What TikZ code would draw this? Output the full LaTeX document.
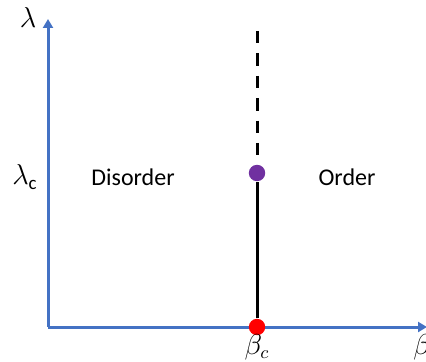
\documentclass[tikz,border=0pt]{standalone}
\usepackage{fontspec}
\setmainfont{Carlito}
\usetikzlibrary{arrows.meta}
\definecolor{axisblue}{HTML}{4472C4}
\definecolor{critpurple}{HTML}{7030A0}

\begin{document}
\begin{tikzpicture}[x=0.5pt,y=-0.5pt,>={Triangle[length=4.5pt,width=5pt]},
    axis/.style={->,axisblue,line width=1.5pt},
    phaseline/.style={black,line width=1.5pt},
    dot/.style={circle,inner sep=0pt,minimum size=8.2pt},
    every node/.style={font=\fontsize{12}{14}\selectfont},
    mathlabel/.style={font=\fontsize{13.5}{16}\selectfont}]
    \useasboundingbox (0,0) rectangle (426,362);
    \coordinate (o) at (48,327);
    \coordinate (ytip) at (48,19);
    \coordinate (xtip) at (427,327);
    \coordinate (top) at (257,31);
    \draw[axis] (o)--(ytip);
    \draw[axis] (o)--(xtip);
    \node[dot,fill=red] (bc) at (257,327) {};
    \node[dot,fill=critpurple] (lc) at (257,173) {};
    \draw[phaseline] (bc)--(lc);
    \draw[phaseline,dash pattern=on 6.2pt off 5pt] (top)--(lc);
    \node[mathlabel] (lam) at (28,18) {$\lambda$};
    \node[mathlabel] (lamc) at (25,177) {$\lambda_{\mathrm{c}}$};
    \node (dis) at (133,177) {Disorder};
    \node (ord) at (347,177) {Order};
    \node[mathlabel] (betac) at (257,347) {$\beta_c$};
    \node[mathlabel] (beta) at (422,347) {$\beta$};
  \end{tikzpicture}
\end{document}
